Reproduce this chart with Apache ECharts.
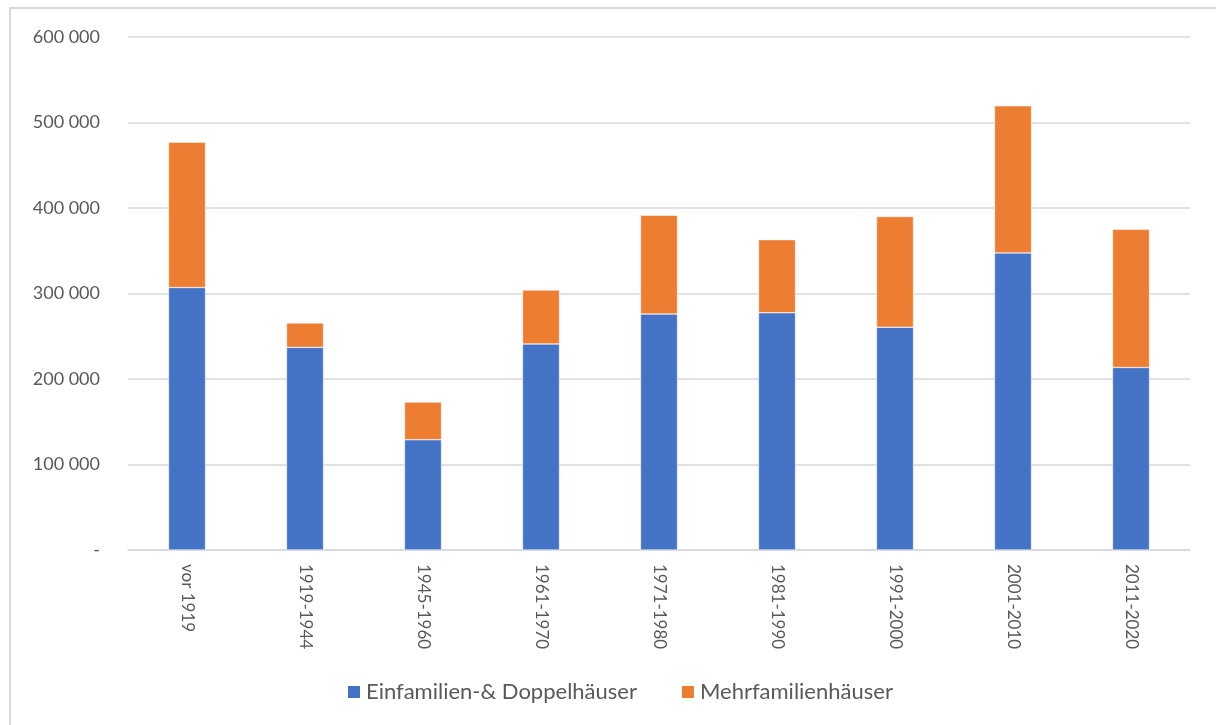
<!DOCTYPE html>
<html>
<head>
<meta charset="utf-8">
<script src="https://cdn.jsdelivr.net/npm/echarts@6/dist/echarts.min.js"></script>
<style>
  html, body { margin: 0; padding: 0; background: #fff; overflow: hidden; }
  #frame {
    position: absolute; left: 9px; top: 7px; width: 1400px; height: 900px;
    border: 2px solid #d9d9d9; box-sizing: border-box;
  }
  #chart { position: absolute; left: 0; top: 0; width: 1216px; height: 725px; }
</style>
</head>
<body>
<div id="frame"></div>
<div id="chart"></div>
<script>
// Baujahr-Klassen
const categories = ['vor 1919', '1919-1944', '1945-1960', '1961-1970', '1971-1980',
  '1981-1990', '1991-2000', '2001-2010', '2011-2020']
// Einfamilien- & Doppelhäuser
const einfamilien = [307000, 237000, 129000, 241000, 276000, 277500, 260500, 347500, 213500]
// Mehrfamilienhäuser
const mehrfamilien = [170000, 28500, 44000, 63000, 115500, 85500, 129500, 172000, 161500]

const seriesNames = ['Einfamilien-& Doppelhäuser', 'Mehrfamilienhäuser']
const colors = ['#4472c4', '#ed7d31']

const fontFamily = 'Lato, "Open Sans", sans-serif'

function formatTick(value) {
  if (value === 0) return '-'
  return String(value).replace(/\B(?=(\d{3})+(?!\d))/g, ' ')
}

const chart = echarts.init(document.getElementById('chart'), null, { renderer: 'canvas' })

const option = {
  animation: false,
  color: colors,
  textStyle: { fontFamily: fontFamily },
  grid: {
    left: 128,
    right: 26,
    top: 37,
    bottom: 175,
    containLabel: false
  },
  legend: {
    top: 681,
    left: 346,
    padding: 0,
    itemWidth: 14,
    itemHeight: 14,
    itemGap: 43,
    icon: 'rect',
    data: seriesNames,
    textStyle: { fontSize: 22, color: '#595959', fontFamily: fontFamily }
  },
  xAxis: {
    type: 'category',
    data: categories,
    axisTick: { show: false },
    axisLine: { lineStyle: { color: '#d9d9d9', width: 1.5 } },
    axisLabel: {
      rotate: -90,
      margin: 14,
      fontSize: 17,
      color: '#595959',
      interval: 0
    }
  },
  yAxis: {
    type: 'value',
    min: 0,
    max: 600000,
    interval: 100000,
    axisLine: { show: false },
    axisTick: { show: false },
    splitLine: { lineStyle: { color: '#d9d9d9', width: 1.5 } },
    axisLabel: {
      margin: 28,
      fontSize: 18,
      color: '#595959',
      formatter: formatTick
    }
  },
  series: [
    {
      name: seriesNames[0],
      type: 'bar',
      stack: 'total',
      barWidth: 37,
      data: einfamilien,
      itemStyle: { borderColor: '#fff', borderWidth: 0.5 }
    },
    {
      name: seriesNames[1],
      type: 'bar',
      stack: 'total',
      barWidth: 37,
      data: mehrfamilien,
      itemStyle: { borderColor: '#fff', borderWidth: 0.5 }
    }
  ]
}

chart.setOption(option)
</script>
</body>
</html>
